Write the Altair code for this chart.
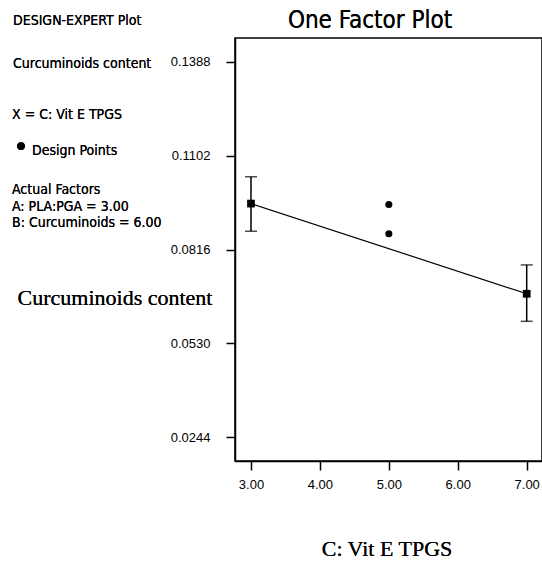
import altair as alt
import pandas as pd

# Model prediction at the two factor levels with 95% CI bars
vit_e_tpgs = [3.0, 7.0]
predicted = [0.0956, 0.0681]
ci_low = [0.0872, 0.0597]
ci_high = [0.1038, 0.0769]

# Observed design points
design_x = [5.0, 5.0]
design_y = [0.0953, 0.0864]

y_ticks = [0.0244, 0.0530, 0.0816, 0.1102, 0.1388]
x_ticks = [3.0, 4.0, 5.0, 6.0, 7.0]

x_domain = [2.768, 7.222]
y_domain = [0.0171, 0.1461]

notes = [
    "DESIGN-EXPERT Plot",
    "Curcuminoids content",
    "X = C: Vit E TPGS",
    "Design Points",
    "Actual Factors",
    "A: PLA:PGA = 3.00",
    "B: Curcuminoids = 6.00",
]

pred_df = pd.DataFrame({"x": vit_e_tpgs, "y": predicted, "lo": ci_low, "hi": ci_high})
design_df = pd.DataFrame({"x": design_x, "y": design_y})

W, H = 307, 423
PAD_L, PAD_T = 235, 38
NARROW = "DejaVu Sans Condensed, sans-serif"

xs = alt.Scale(domain=x_domain, nice=False, zero=False)
ys = alt.Scale(domain=y_domain, nice=False, zero=False)

x_axis = alt.Axis(values=x_ticks, format=".2f", title=None, tickSize=9,
                  labelPadding=8, labelFontSize=13, labelFont="Liberation Sans",
                  grid=False)
y_axis = alt.Axis(values=y_ticks, format=".4f", title=None, tickSize=9,
                  labelPadding=16, labelFontSize=13, labelFont="Liberation Sans",
                  grid=False)

base = alt.Chart(pred_df)

line = base.mark_line(color="black", strokeWidth=1.2).encode(
    x=alt.X("x:Q", scale=xs, axis=x_axis),
    y=alt.Y("y:Q", scale=ys, axis=y_axis),
)
bars = base.mark_rule(color="black", strokeWidth=1.5).encode(
    x="x:Q", y="lo:Q", y2="hi:Q"
)
cap_hi = base.mark_tick(color="black", orient="horizontal", size=12, thickness=1.5).encode(
    x="x:Q", y="hi:Q"
)
cap_lo = base.mark_tick(color="black", orient="horizontal", size=12, thickness=1.5).encode(
    x="x:Q", y="lo:Q"
)
squares = base.mark_square(color="black", size=60, opacity=1).encode(x="x:Q", y="y:Q")
design = alt.Chart(design_df).mark_point(
    shape="circle", filled=True, color="black", size=50, opacity=1
).encode(x="x:Q", y="y:Q")


def txt(text, px, py, size=14, font=NARROW, align="left"):
    return alt.Chart(pred_df).mark_text(
        text=text, font=font, fontSize=size, align=align, baseline="alphabetic",
        color="black",
    ).encode(x=alt.value(px - PAD_L), y=alt.value(py - PAD_T))


labels = [
    txt("One Factor Plot", 370, 28, size=24, align="center"),
    txt(notes[0], 13, 25),
    txt(notes[1], 13, 68),
    txt(notes[2], 12, 119),
    txt(notes[3], 32, 155),
    txt(notes[4], 12, 194),
    txt(notes[5], 12, 211),
    txt(notes[6], 12, 227),
    txt("Curcuminoids content", 115, 305, size=22, font="Liberation Serif", align="center"),
    txt("C: Vit E TPGS", 387, 556, size=22, font="Liberation Serif", align="center"),
]

bullet = alt.Chart(pred_df).mark_point(
    shape="circle", filled=True, color="black", size=60, opacity=1
).encode(x=alt.value(21 - PAD_L), y=alt.value(146 - PAD_T))

chart = alt.layer(line, bars, cap_hi, cap_lo, squares, design, bullet, *labels).properties(
    width=W, height=H,
    autosize=alt.AutoSizeParams(type="none"),
    padding={"left": PAD_L, "top": PAD_T, "right": 0, "bottom": 565 - PAD_T - H},
    background="white",
).configure_view(
    stroke="black", strokeWidth=1.5
).configure_axis(
    domainColor="black", domainWidth=1.5, tickColor="black", tickWidth=1.5,
    labelColor="black",
)

chart.save("out.html", embed_options={"renderer": "svg", "actions": False})
